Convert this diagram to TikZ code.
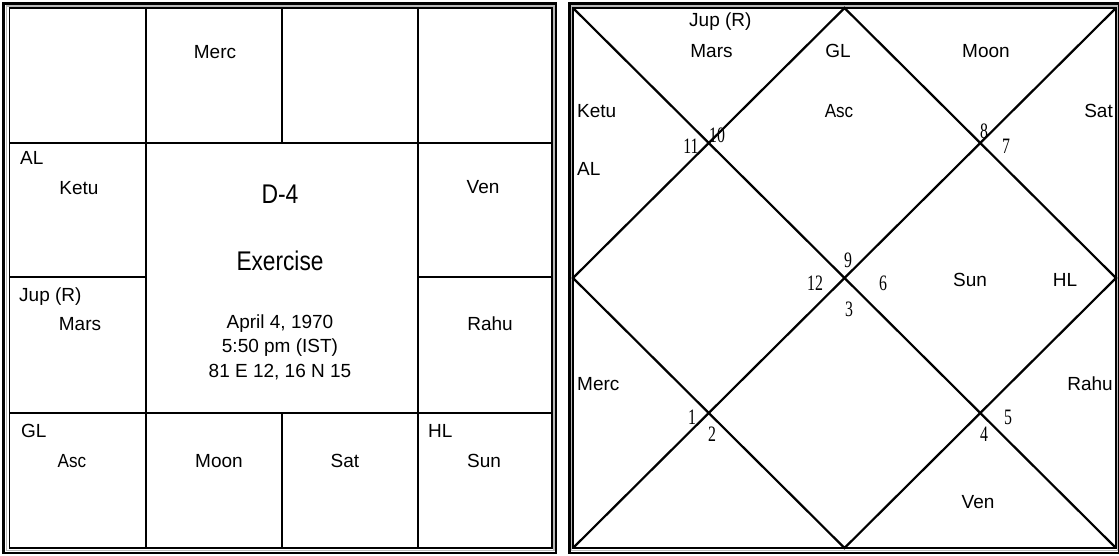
\documentclass[tikz,border=0pt]{standalone}
\usepackage{fontspec}
\setmainfont{Liberation Sans}
\newfontfamily\numfont{Liberation Serif}
\begin{document}
\begin{tikzpicture}[x=1pt,y=-1pt,
  lbl/.style={font=\fontsize{19}{19}\selectfont, inner sep=0pt},
  big/.style={font=\fontsize{27}{27}\selectfont, inner sep=0pt},
  num/.style={font=\numfont\fontsize{22}{22}\selectfont, inner sep=0pt},
  grid/.style={line width=2.9pt},
  diag/.style={line width=2.2pt},
  bordout/.style={line width=2.4pt},
  bordmid/.style={line width=1.6pt, gray!55},
  bordin/.style={line width=1.4pt}]
\useasboundingbox (0,0) rectangle (1119,556);
\fill[white] (0,0) rectangle (1119,556);

% ---------- Left chart (South Indian) ----------
\draw[bordmid] (6.5,6) rectangle (554,550.5);
\draw[bordout] (3.5,3.5) rectangle (556,553);
\draw[bordin] (9.5,8) rectangle (552,548);
\coordinate (v1t) at (146,8);   \coordinate (v1b) at (146,143);
\coordinate (v2t) at (282,8);   \coordinate (v2b) at (282,143);
\coordinate (v3t) at (418,8);   \coordinate (v3b) at (418,548);
\coordinate (v1c) at (146,143); \coordinate (v1d) at (146,548);
\coordinate (v2c) at (282,413); \coordinate (v2d) at (282,548);
\coordinate (h1l) at (9.5,143); \coordinate (h1r) at (552,143);
\coordinate (h2l) at (9.5,277); \coordinate (h2a) at (146,277);
\coordinate (h2b) at (418,277); \coordinate (h2r) at (552,277);
\coordinate (h3l) at (9.5,413); \coordinate (h3r) at (552,413);
\draw[grid] (v1t) -- (v1b);
\draw[grid] (v2t) -- (v2b);
\draw[grid] (v3t) -- (v3b);
\draw[grid] (v1c) -- (v1d);
\draw[grid] (v2c) -- (v2d);
\draw[grid] (h1l) -- (h1r);
\draw[grid] (h2l) -- (h2a);
\draw[grid] (h2b) -- (h2r);
\draw[grid] (h3l) -- (h3r);

\node[lbl, anchor=base] (lmerc) at (215,58.5) {Merc};
\node[lbl, anchor=base west] (lal) at (20,165) {AL};
\node[lbl, anchor=base] (lketu) at (79,195) {Ketu};
\node[lbl, anchor=base] (lven) at (483,194) {Ven};
\node[lbl, anchor=base west] (ljup) at (19,301) {Jup (R)};
\node[lbl, anchor=base] (lmars) at (80,330) {Mars};
\node[lbl, anchor=base] (lrahu) at (490,330) {Rahu};
\node[lbl, anchor=base west] (lgl) at (21,437) {GL};
\node[lbl, anchor=base] (lasc) at (72,467) {\scalebox{0.9}[1]{Asc}};
\node[lbl, anchor=base] (lmoon) at (219,467) {Moon};
\node[lbl, anchor=base] (lsat) at (345,467) {Sat};
\node[lbl, anchor=base west] (lhl) at (428,437) {HL};
\node[lbl, anchor=base] (lsun) at (484,467) {Sun};
\node[big, anchor=base] (ttl) at (280,204) {\scalebox{0.85}[1]{D-4}};
\node[big, anchor=base] (ex) at (280,270) {\scalebox{0.84}[1]{Exercise}};
\node[lbl, anchor=base] (d1) at (280,328) {April 4, 1970};
\node[lbl, anchor=base] (d2) at (280,352) {5:50 pm (IST)};
\node[lbl, anchor=base] (d3) at (280,377) {81 E 12, 16 N 15};

% ---------- Right chart (North Indian) ----------
\draw[bordmid] (571.5,6) rectangle (1117.5,550.5);
\draw[bordout] (569.5,3.5) rectangle (1119.5,553);
\draw[bordin] (573,8) rectangle (1116,548);
\coordinate (tl) at (573,8);
\coordinate (tr) at (1116,8);
\coordinate (bl) at (573,548);
\coordinate (br) at (1116,548);
\coordinate (tm) at (844.5,8);
\coordinate (rm) at (1116,278);
\coordinate (bm) at (844.5,548);
\coordinate (lm) at (573,278);
\draw[diag] (tl) -- (br);
\draw[diag] (tr) -- (bl);
\draw[diag] (tm) -- (rm) -- (bm) -- (lm) -- cycle;

\node[lbl, anchor=base west] (rjup) at (689,27) {Jup (R)};
\node[lbl, anchor=base] (rmars) at (711.5,58) {Mars};
\node[lbl, anchor=base west] (rketu) at (577,118) {Ketu};
\node[lbl, anchor=base west] (ral) at (577,176) {AL};
\node[lbl, anchor=base] (rgl) at (838,58) {GL};
\node[lbl, anchor=base] (rasc) at (839,118) {\scalebox{0.9}[1]{Asc}};
\node[lbl, anchor=base] (rmoon) at (986,58) {Moon};
\node[lbl, anchor=base east] (rsat) at (1113,118) {Sat};
\node[lbl, anchor=base] (rsun) at (970,286) {Sun};
\node[lbl, anchor=base] (rhl) at (1065,286) {HL};
\node[lbl, anchor=base west] (rmerc) at (577,390) {Merc};
\node[lbl, anchor=base east] (rrahu) at (1113,390) {Rahu};
\node[lbl, anchor=base] (rven) at (978,508) {Ven};

\node[num] (n10) at (717,135) {\scalebox{0.72}[1]{10}};
\node[num] (n11) at (691,146) {\scalebox{0.72}[1]{11}};
\node[num] (n9) at (848,260) {\scalebox{0.72}[1]{9}};
\node[num] (n12) at (815,283) {\scalebox{0.72}[1]{12}};
\node[num] (n6) at (883,283) {\scalebox{0.72}[1]{6}};
\node[num] (n3) at (849,309) {\scalebox{0.72}[1]{3}};
\node[num] (n8) at (984,131) {\scalebox{0.72}[1]{8}};
\node[num] (n7) at (1006,146) {\scalebox{0.72}[1]{7}};
\node[num] (n1) at (692,417) {\scalebox{0.72}[1]{1}};
\node[num] (n2) at (712,434) {\scalebox{0.72}[1]{2}};
\node[num] (n5) at (1008,417) {\scalebox{0.72}[1]{5}};
\node[num] (n4) at (984,434) {\scalebox{0.72}[1]{4}};
\end{tikzpicture}
\end{document}
